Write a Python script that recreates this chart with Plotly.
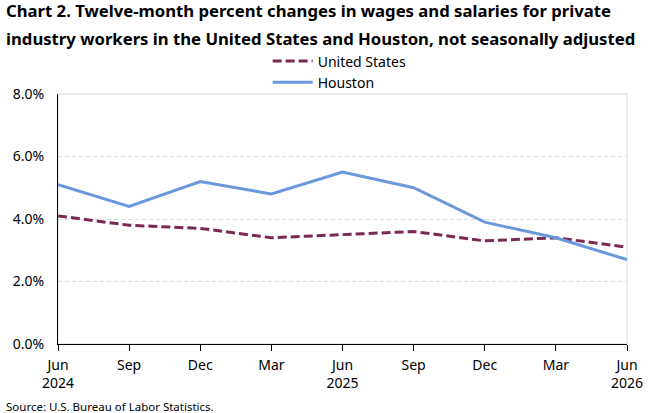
import plotly.graph_objects as go

# quarters shown on the x axis
months = ["Jun", "Sep", "Dec", "Mar", "Jun", "Sep", "Dec", "Mar", "Jun"]
years = ["2024", "", "", "", "2025", "", "", "", "2026"]

# twelve-month percent changes
us_values = [4.1, 3.8, 3.7, 3.4, 3.5, 3.6, 3.3, 3.4, 3.1]
houston_values = [5.1, 4.4, 5.2, 4.8, 5.5, 5.0, 3.9, 3.4, 2.7]

positions = list(range(len(months)))
tick_text = [m + "<br>" + y if y else m for m, y in zip(months, years)]

font_name = "Noto Sans, sans-serif"

fig = go.Figure()
fig.add_trace(go.Scatter(
    x=positions, y=us_values, name="United States", mode="lines",
    line=dict(color="#782A52", width=3, dash="9px,4px"),
))
fig.add_trace(go.Scatter(
    x=positions, y=houston_values, name="Houston", mode="lines",
    line=dict(color="#6A98DC", width=3),
))

fig.update_layout(
    width=667, height=413,
    margin=dict(l=58, r=40, t=94, b=69),
    paper_bgcolor="white", plot_bgcolor="white",
    font=dict(family=font_name, size=14, color="#000000"),
    legend=dict(
        orientation="v", x=0.495, xanchor="center", y=1.194, yanchor="top",
        font=dict(size=14), tracegroupgap=0, itemwidth=40,
        bgcolor="rgba(0,0,0,0)",
    ),
    showlegend=True,
)

fig.update_xaxes(
    range=[0, 8], tickmode="array", tickvals=positions, ticktext=tick_text,
    showgrid=False, showline=True, linecolor="#000000", linewidth=1,
    ticks="outside", ticklen=6, tickcolor="#000000", ticklabelstandoff=2,
    tickfont=dict(size=14), zeroline=False, automargin=False,
)
fig.update_yaxes(
    range=[0, 8], dtick=2, tickformat=".1f", ticksuffix="%",
    showgrid=True, gridcolor="#d9d9d9", griddash="4px,3px", gridwidth=1,
    showline=True, linecolor="#000000", linewidth=1, zeroline=False,
    ticklabelstandoff=10, tickfont=dict(size=14), automargin=False,
)

# light border around the plot area
fig.add_shape(type="rect", xref="paper", yref="paper", x0=0, x1=1, y0=0, y1=1,
              line=dict(color="#d9d9d9", width=1), layer="below")

title_lines = [
    "Chart 2. Twelve-month percent changes in wages and salaries for private",
    "industry workers in the United States and Houston, not seasonally adjusted",
]
for line, ypos in zip(title_lines, [1.332, 1.224]):
    fig.add_annotation(
        text="<b>" + line + "</b>",
        xref="paper", yref="paper", x=-0.095, y=ypos, xanchor="left", yanchor="middle",
        showarrow=False, font=dict(family=font_name, size=16.7),
    )

fig.add_annotation(
    text="Source: U.S. Bureau of Labor Statistics.",
    xref="paper", yref="paper", x=-0.095, y=-0.248, xanchor="left", yanchor="middle",
    showarrow=False, font=dict(family=font_name, size=11.5),
)

# drop the browser's default body margin so the figure fills the window
fig.write_html("out.html", config={"displayModeBar": False},
               post_script="document.body.style.margin = '0';")
